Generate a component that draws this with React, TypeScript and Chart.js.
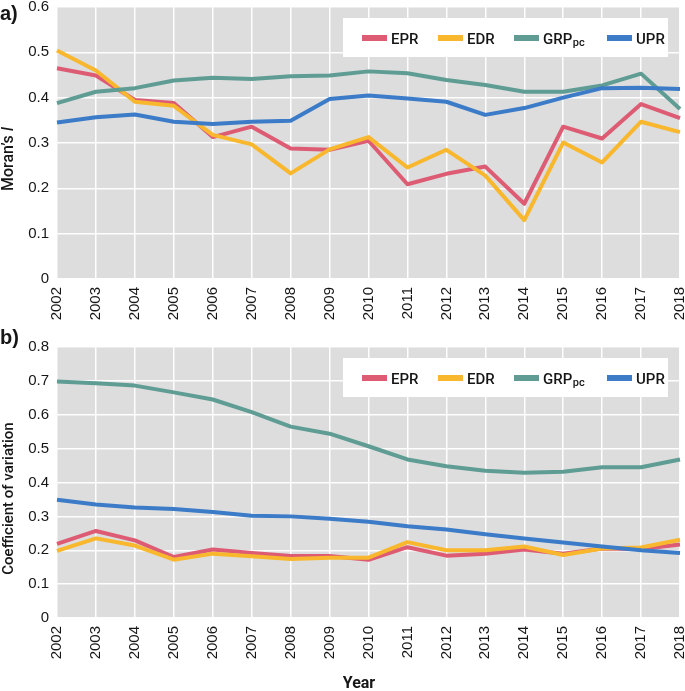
import React, { useEffect, useRef } from "react";
import { Chart, registerables } from "chart.js";
Chart.register(...registerables);

const years = ["2002","2003","2004","2005","2006","2007","2008","2009","2010","2011","2012","2013","2014","2015","2016","2017","2018"];

const seriesNames = ["EPR", "EDR", "GRP", "UPR"];

// Panel a) Moran's I
const moranEPR = [0.465,0.449,0.395,0.388,0.313,0.336,0.288,0.285,0.305,0.209,0.232,0.248,0.166,0.336,0.310,0.386,0.355];
const moranEDR = [0.504,0.460,0.391,0.382,0.318,0.297,0.233,0.286,0.313,0.246,0.285,0.228,0.130,0.301,0.257,0.347,0.324];
const moranGRP = [0.388,0.413,0.421,0.438,0.444,0.441,0.447,0.449,0.458,0.454,0.439,0.428,0.413,0.413,0.427,0.453,0.375];
const moranUPR = [0.345,0.357,0.363,0.347,0.342,0.347,0.349,0.397,0.405,0.398,0.391,0.362,0.377,0.400,0.421,0.422,0.419];

// Panel b) Coefficient of variation
const cvEPR = [0.219,0.257,0.229,0.180,0.202,0.192,0.183,0.183,0.172,0.209,0.184,0.190,0.202,0.190,0.205,0.204,0.217];
const cvEDR = [0.198,0.235,0.214,0.172,0.190,0.182,0.174,0.178,0.178,0.224,0.200,0.200,0.211,0.186,0.205,0.208,0.231];
const cvGRP = [0.698,0.693,0.686,0.666,0.645,0.608,0.565,0.544,0.507,0.468,0.448,0.435,0.429,0.432,0.445,0.445,0.468];
const cvUPR = [0.349,0.335,0.326,0.322,0.313,0.302,0.300,0.293,0.284,0.271,0.261,0.247,0.235,0.223,0.211,0.200,0.192];

const COLORS: Record<string, string> = {
  EPR: "#de5b74",
  EDR: "#f8b72d",
  GRP: "#5f9d94",
  UPR: "#3b7bc8",
};

const TEXT = "#161616";
const TICK_FONT = "'Liberation Sans', Arial, sans-serif";
const TITLE_FONT = "Roboto, 'Liberation Sans', sans-serif";

type PanelCfg = {
  label: string;
  labelBaseline: number;
  yTitle: "moran" | "cv";
  xTitle: boolean;
};

function makePlugin(cfg: PanelCfg) {
  return {
    id: "panelDeco" + cfg.label,
    beforeDraw(chart: any) {
      const { ctx, chartArea: a } = chart;
      ctx.save();
      ctx.fillStyle = "#dcdddc";
      ctx.fillRect(a.left, a.top, a.right - a.left, a.bottom - a.top);
      ctx.restore();
    },
    afterDraw(chart: any) {
      const { ctx, chartArea: a } = chart;
      ctx.save();
      // panel label
      ctx.fillStyle = TEXT;
      ctx.font = `bold 20px ${TICK_FONT}`;
      ctx.textAlign = "left";
      ctx.textBaseline = "alphabetic";
      ctx.fillText(cfg.label, 0, cfg.labelBaseline);

      // y title
      const cy = (a.top + a.bottom) / 2 + 16;
      ctx.save();
      ctx.translate(9, cy);
      ctx.rotate(-Math.PI / 2);
      ctx.textBaseline = "middle";
      ctx.textAlign = "left";
      if (cfg.yTitle === "moran") {
        const f1 = `500 16px ${TITLE_FONT}`;
        const f2 = `italic 500 16px ${TITLE_FONT}`;
        ctx.font = f1;
        const t1 = "Moran\u2019s ";
        const w1 = ctx.measureText(t1).width;
        ctx.font = f2;
        const w2 = ctx.measureText("I").width;
        const x0 = -(w1 + w2) / 2;
        ctx.font = f1;
        ctx.fillText(t1, x0, 0);
        ctx.font = f2;
        ctx.fillText("I", x0 + w1, 0);
      } else {
        ctx.font = `500 15px ${TITLE_FONT}`;
        ctx.textAlign = "center";
        ctx.fillText("Coefficient of variation", 0, 0);
      }
      ctx.restore();

      // x title
      if (cfg.xTitle) {
        ctx.font = `bold 16px ${TITLE_FONT}`;
        ctx.textAlign = "center";
        ctx.textBaseline = "alphabetic";
        ctx.fillStyle = TEXT;
        ctx.fillText("Year", 359, chart.height - 3);
      }

      // legend
      const bx = a.right - 337;
      const by = a.top + 11;
      const bw = 325;
      const bh = 39;
      ctx.fillStyle = "#ffffff";
      ctx.fillRect(bx, by, bw, bh);
      const offsets = [19, 95, 171, 264];
      const ly = by + 20;
      seriesNames.forEach((name, i) => {
        const x = bx + offsets[i];
        ctx.strokeStyle = COLORS[name];
        ctx.lineWidth = 6;
        ctx.lineCap = "butt";
        ctx.beginPath();
        ctx.moveTo(x, ly);
        ctx.lineTo(x + 25, ly);
        ctx.stroke();
        ctx.fillStyle = TEXT;
        ctx.textAlign = "left";
        ctx.textBaseline = "alphabetic";
        ctx.font = `500 15px ${TITLE_FONT}`;
        const tx = x + 29;
        const base = ly + 5.5;
        if (name === "GRP") {
          ctx.fillText("GRP", tx, base);
          const w = ctx.measureText("GRP").width;
          ctx.font = `500 11px ${TITLE_FONT}`;
          ctx.fillText("pc", tx + w + 0.5, base + 2);
        } else {
          ctx.fillText(name, tx, base);
        }
      });
      ctx.restore();
    },
  };
}

function buildChart(
  canvas: HTMLCanvasElement,
  data: number[][],
  yMax: number,
  padTop: number,
  xHeight: number,
  cfg: PanelCfg
) {
  const order = [3, 2, 1, 0];
  return new Chart(canvas, {
    type: "line",
    data: {
      labels: years,
      datasets: seriesNames.map((name, i) => ({
        label: name,
        data: data[i],
        borderColor: COLORS[name],
        backgroundColor: COLORS[name],
        borderWidth: 4,
        pointRadius: 0,
        tension: 0,
        fill: false,
        order: order[i],
        borderJoinStyle: "round" as const,
      })),
    },
    options: {
      animation: false,
      responsive: false,
      maintainAspectRatio: false,
      layout: { padding: { top: padTop, left: 0, right: 5, bottom: 0 } },
      plugins: {
        legend: { display: false },
        tooltip: { enabled: false },
      },
      scales: {
        x: {
          type: "category",
          offset: false,
          grid: { color: "rgba(255,255,255,0.95)", lineWidth: 1.5, drawTicks: false },
          border: { display: false },
          ticks: {
            color: TEXT,
            font: { family: TICK_FONT, size: 15 },
            minRotation: 90,
            maxRotation: 90,
            padding: 8,
            autoSkip: false,
          },
          afterFit: (scale: any) => {
            scale.height = xHeight;
            scale.paddingLeft = 0;
            scale.paddingRight = 0;
          },
        },
        y: {
          min: 0,
          max: yMax,
          grid: { color: "rgba(255,255,255,0.95)", lineWidth: 1.5, drawTicks: false },
          border: { display: false },
          ticks: {
            stepSize: 0.1,
            color: TEXT,
            font: { family: TICK_FONT, size: 15 },
            padding: 8,
            callback: (v: any) => (Number(v) === 0 ? "0" : Number(v).toFixed(1)),
          },
          afterFit: (scale: any) => {
            scale.width = 57;
            scale.paddingTop = 0;
            scale.paddingBottom = 0;
          },
        },
      },
    },
    plugins: [makePlugin(cfg)],
  } as any);
}

export default function App() {
  const topRef = useRef<HTMLCanvasElement | null>(null);
  const botRef = useRef<HTMLCanvasElement | null>(null);

  useEffect(() => {
    document.body.style.margin = "0";
    document.body.style.background = "#ffffff";
    const c1 = buildChart(
      topRef.current!,
      [moranEPR, moranEDR, moranGRP, moranUPR],
      0.6,
      7,
      49,
      { label: "a)", labelBaseline: 20, yTitle: "moran", xTitle: false }
    );
    const c2 = buildChart(
      botRef.current!,
      [cvEPR, cvEDR, cvGRP, cvUPR],
      0.8,
      19,
      73,
      { label: "b)", labelBaseline: 16, yTitle: "cv", xTitle: true }
    );
    return () => {
      c1.destroy();
      c2.destroy();
    };
  }, []);

  return (
    <div style={{ width: 685, height: 691, background: "#fff" }}>
      <canvas ref={topRef} width={685} height={328} style={{ display: "block", width: 685, height: 328 }} />
      <canvas ref={botRef} width={685} height={363} style={{ display: "block", width: 685, height: 363 }} />
    </div>
  );
}
